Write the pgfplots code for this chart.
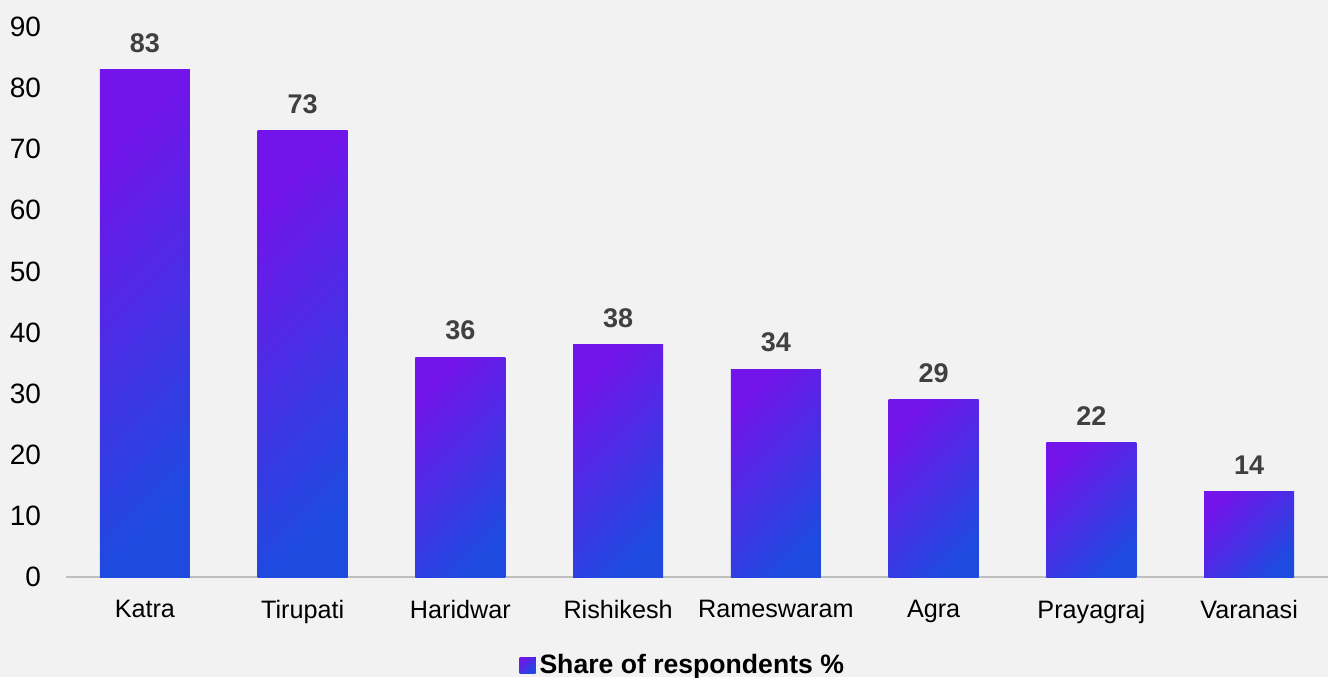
\documentclass[border=0pt]{standalone}
\usepackage{pgfplots}
\pgfplotsset{compat=1.18}
\usepackage{fontspec}
\setmainfont{Liberation Sans}
\definecolor{bg}{HTML}{F2F2F2}
\definecolor{cpurple}{RGB}{114,20,234}
\definecolor{cblue}{RGB}{30,74,224}
\definecolor{lblgray}{HTML}{404040}
\definecolor{axgray}{HTML}{BFBFBF}
\begin{document}
\begin{tikzpicture}
\fill[bg] (-33pt,-50pt) rectangle (631pt,288.5pt);
\path[use as bounding box] (-33pt,-50pt) rectangle (631pt,288.5pt);
\begin{axis}[
  scale only axis,
  width=631pt, height=275pt,
  xmin=-0.5, xmax=7.5,
  ymin=0, ymax=90,
  ytick={0,10,...,90},
  xtick={0,...,7},
  xticklabels={Katra,Tirupati,Haridwar,Rishikesh,Rameswaram,Agra,Prayagraj,Varanasi},
  axis x line*=bottom,
  axis y line*=left,
  x axis line style={axgray, line width=1.3pt, -},
  y axis line style={draw=none},
  major tick length=0pt,
  /pgf/number format/assume math mode=true,
  ticklabel style={font=\fontsize{14}{16}\selectfont, text=black},
  xticklabel style={font=\fontsize{12.6}{14}\selectfont, yshift=-8pt},
  yticklabel style={anchor=east, xshift=-9pt},
  ybar, bar shift=0pt,
  bar width=45pt,
  nodes near coords,
  every node near coord/.append style={font=\bfseries\fontsize{13.5}{15}\selectfont, text=lblgray, yshift=5pt},
  clip=false,
  legend style={at={(0.4895,-0.16)}, anchor=center, draw=none, fill=none,
    font=\bfseries\fontsize{13.3}{15}\selectfont, legend cell align=left,
    /tikz/every even column/.append style={column sep=2pt}},
  legend image code/.code={\fill[top color=cpurple, bottom color=cblue, shading angle=45] (0pt,-4pt) rectangle (8pt,4pt);},
  barstyle/.style={draw=none, top color=cpurple, bottom color=cblue, shading angle=45},
]
\addplot[barstyle] coordinates {(0,83)};
\addlegendentry{Share of respondents \%}
\addplot[barstyle, forget plot] coordinates {(1,73)};
\addplot[barstyle, forget plot] coordinates {(2,36)};
\addplot[barstyle, forget plot] coordinates {(3,38)};
\addplot[barstyle, forget plot] coordinates {(4,34)};
\addplot[barstyle, forget plot] coordinates {(5,29)};
\addplot[barstyle, forget plot] coordinates {(6,22)};
\addplot[barstyle, forget plot] coordinates {(7,14)};
\end{axis}
\end{tikzpicture}
\end{document}
